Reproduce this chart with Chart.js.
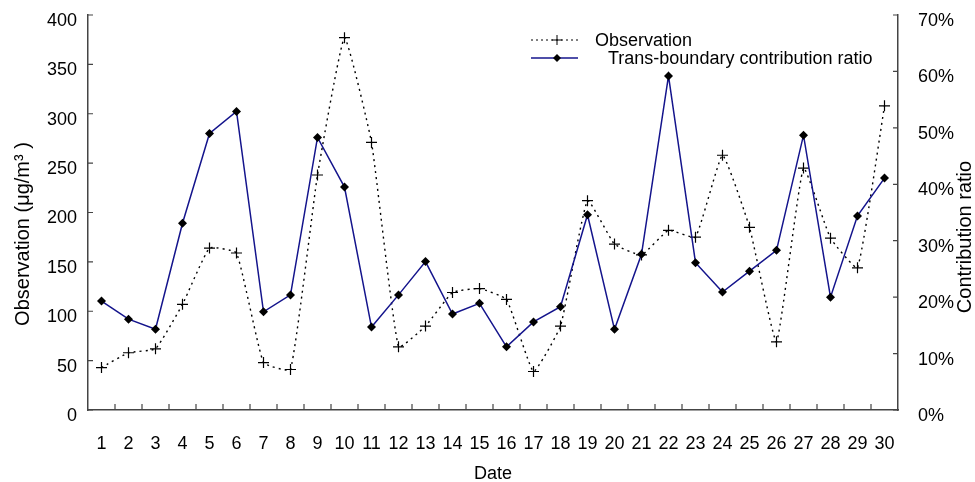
<!DOCTYPE html>
<html>
<head>
<meta charset="utf-8">
<script src="https://cdn.jsdelivr.net/npm/chart.js@4.4.1/dist/chart.umd.min.js"></script>
<style>
  html, body { margin: 0; padding: 0; background: #fff; }
  #wrap { width: 975px; height: 482px; }
</style>
</head>
<body>
<div id="wrap"><canvas id="chart"></canvas></div>
<script>
const dates = ["1","2","3","4","5","6","7","8","9","10","11","12","13","14","15",
  "16","17","18","19","20","21","22","23","24","25","26","27","28","29","30"];

// observation, ug/m3 (left axis)
const observation = [43, 58, 62, 107, 164, 159, 48, 41, 238, 377, 271, 64, 85, 119, 123,
  112, 39, 85, 212, 168, 157, 182, 175, 258, 185, 69, 245, 174, 144, 308];

// trans-boundary contribution ratio, % (right axis)
const ratio = [19.3, 16.1, 14.3, 33.1, 49.0, 52.9, 17.4, 20.4, 48.3, 39.5, 14.7, 20.4, 26.3, 17.0, 18.9,
  11.2, 15.6, 18.3, 34.6, 14.3, 27.6, 59.2, 26.1, 20.9, 24.6, 28.3, 48.7, 20.0, 34.4, 41.1];

const FONT = "'Liberation Sans', Arial, sans-serif";
const AXIS = "#444";
const BLUE = "#14148c";

// small inward tick marks, axis titles and the legend box
const extras = {
  id: "extras",
  afterDraw(chart) {
    const ctx = chart.ctx;
    const x = chart.scales.x, y = chart.scales.y, y1 = chart.scales.y1;
    ctx.save();
    ctx.strokeStyle = AXIS;
    ctx.lineWidth = 1.2;
    ctx.beginPath();
    y.ticks.forEach((t, i) => {
      const py = y.getPixelForTick(i);
      ctx.moveTo(x.left, py); ctx.lineTo(x.left + 5, py);
    });
    y1.ticks.forEach((t, i) => {
      const py = y1.getPixelForTick(i);
      ctx.moveTo(x.right, py); ctx.lineTo(x.right - 5, py);
    });
    for (let i = 0; i < dates.length - 1; i++) {
      const px = (x.getPixelForTick(i) + x.getPixelForTick(i + 1)) / 2;
      ctx.moveTo(px, y.bottom); ctx.lineTo(px, y.bottom - 6);
    }
    ctx.stroke();

    // axis titles (both read bottom to top)
    ctx.fillStyle = "#000";
    ctx.font = "20px " + FONT;
    ctx.textAlign = "center";
    ctx.textBaseline = "middle";
    ctx.save();
    ctx.translate(23, 234);
    ctx.rotate(-Math.PI / 2);
    ctx.fillText("Observation (\u03bcg/m\u00b3 )", 0, 0);
    ctx.restore();
    ctx.save();
    ctx.translate(965, 237);
    ctx.rotate(-Math.PI / 2);
    ctx.fillText("Contribution ratio", 0, 0);
    ctx.restore();

    // legend
    ctx.font = "18px " + FONT;
    ctx.textAlign = "left";
    ctx.lineWidth = 1;
    ctx.strokeStyle = "#000";
    ctx.setLineDash([2, 3]);
    ctx.beginPath(); ctx.moveTo(531, 40); ctx.lineTo(578, 40); ctx.stroke();
    ctx.setLineDash([]);
    ctx.beginPath();
    ctx.moveTo(552, 40); ctx.lineTo(562, 40);
    ctx.moveTo(557, 35); ctx.lineTo(557, 45);
    ctx.stroke();
    ctx.strokeStyle = BLUE;
    ctx.lineWidth = 1.5;
    ctx.beginPath(); ctx.moveTo(531, 58); ctx.lineTo(578, 58); ctx.stroke();
    ctx.fillStyle = "#000";
    ctx.beginPath();
    ctx.moveTo(557, 54); ctx.lineTo(561, 58); ctx.lineTo(557, 62); ctx.lineTo(553, 58);
    ctx.closePath(); ctx.fill();
    ctx.fillText("Observation", 595, 41);
    ctx.fillText("Trans-boundary contribution ratio", 608, 59);
    ctx.restore();
  }
};

const noPad = (scale) => {
  scale.paddingTop = 0; scale.paddingBottom = 0;
  scale.paddingLeft = 0; scale.paddingRight = 0;
};

new Chart(document.getElementById("chart"), {
  type: "line",
  data: {
    labels: dates,
    datasets: [
      {
        label: "Trans-boundary contribution ratio",
        data: ratio,
        yAxisID: "y1",
        borderColor: BLUE,
        borderWidth: 1.5,
        pointStyle: "rectRot",
        pointRadius: 4.5,
        pointBackgroundColor: "#000",
        pointBorderColor: "#000",
        pointBorderWidth: 0,
        tension: 0,
        order: 1
      },
      {
        label: "Observation",
        data: observation,
        yAxisID: "y",
        borderColor: "#000",
        borderWidth: 1.4,
        borderDash: [2, 4],
        pointStyle: "cross",
        pointRadius: 5.5,
        pointBorderColor: "#000",
        pointBorderWidth: 1.2,
        tension: 0.12,
        order: 2
      }
    ]
  },
  options: {
    responsive: true,
    maintainAspectRatio: false,
    animation: false,
    layout: { padding: { top: 15, left: 0, right: 0, bottom: 0 } },
    plugins: { legend: { display: false }, tooltip: { enabled: false } },
    scales: {
      x: {
        offset: true,
        grid: { display: false, drawTicks: false, offset: true },
        border: { display: true, color: AXIS, width: 1.5 },
        ticks: { color: "#000", font: { family: FONT, size: 18 }, padding: 23, maxRotation: 0, autoSkip: false },
        title: { display: true, text: "Date", color: "#000", font: { family: FONT, size: 18, lineHeight: 0.9 }, padding: 0 },
        afterFit(scale) { scale.height = 72; noPad(scale); }
      },
      y: {
        position: "left",
        min: 0,
        max: 400,
        grid: { display: false, drawTicks: false },
        border: { display: true, color: AXIS, width: 1.5 },
        ticks: { stepSize: 50, color: "#000", font: { family: FONT, size: 18 }, padding: 11, labelOffset: 6 },
        afterFit(scale) { scale.width = 88; noPad(scale); }
      },
      y1: {
        position: "right",
        min: 0,
        max: 70,
        grid: { display: false, drawTicks: false },
        border: { display: true, color: AXIS, width: 1.5 },
        ticks: {
          stepSize: 10,
          color: "#000",
          font: { family: FONT, size: 18 },
          padding: 20,
          labelOffset: 6,
          callback: (v) => v + "%"
        },
        afterFit(scale) { scale.width = 77; noPad(scale); }
      }
    }
  },
  plugins: [extras]
});
</script>
</body>
</html>
